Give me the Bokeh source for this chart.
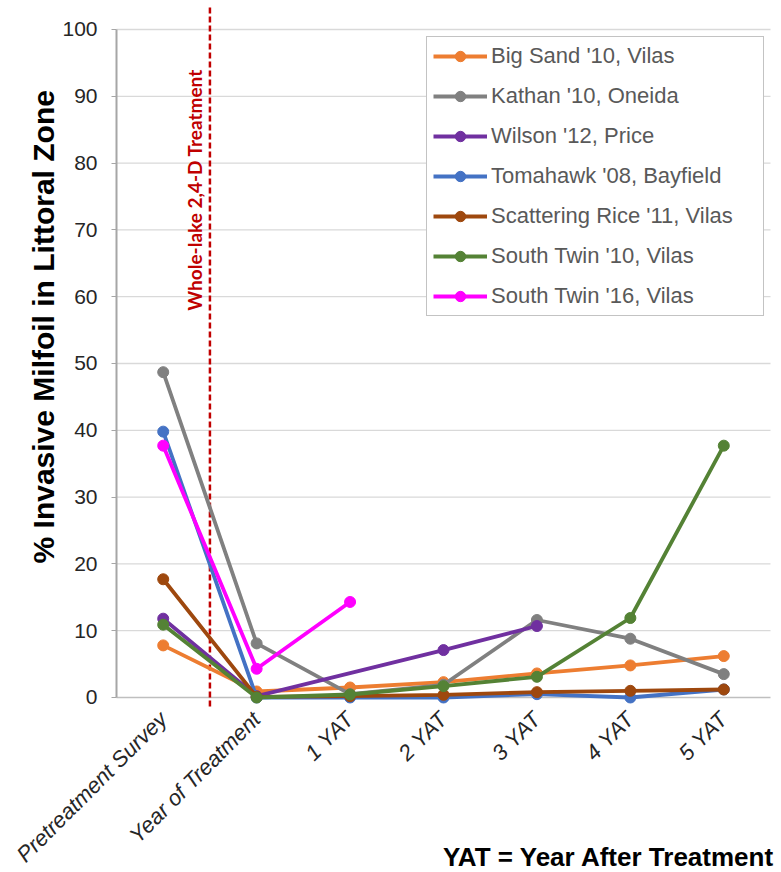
import math
from bokeh.plotting import figure
from bokeh.models import Range1d, FixedTicker, Label
from bokeh.embed import file_html
from bokeh.resources import INLINE

categories = ["Pretreatment Survey", "Year of Treatment", "1 YAT", "2 YAT", "3 YAT", "4 YAT", "5 YAT"]
big_sand = [7.8, 0.9, 1.5, 2.3, 3.6, 4.8, 6.2]
kathan = [48.7, 8.1, 0.5, 1.9, 11.6, 8.8, 3.5]
wilson = [11.8, 0.2, None, 7.1, 10.7, None, None]
tomahawk = [39.8, 0.0, 0.0, 0.0, 0.5, 0.0, 1.2]
scattering_rice = [17.7, 0.1, 0.2, 0.4, 0.8, 1.0, 1.2]
south_twin_10 = [10.9, 0.0, 0.45, 1.7, 3.1, 11.9, 37.7]
south_twin_16 = [37.7, 4.3, 14.3, None, None, None, None]

series_names = ["Big Sand '10, Vilas", "Kathan '10, Oneida", "Wilson '12, Price",
                "Tomahawk '08, Bayfield", "Scattering Rice '11, Vilas",
                "South Twin '10, Vilas", "South Twin '16, Vilas"]
series_values = [big_sand, kathan, wilson, tomahawk, scattering_rice, south_twin_10, south_twin_16]
series_colors = ["#ED7D31", "#808080", "#7030A0", "#4472C4", "#9E480E", "#548235", "#FF00FF"]

y_ticks = [0, 10, 20, 30, 40, 50, 60, 70, 80, 90, 100]
treatment_boundary = 0.5
x_positions = list(range(len(categories)))

# plot area spans x in [X_LO, X_HI], y in [0, 100]; the frame covers the whole canvas
X_LO, X_HI = -0.5, 6.5
Y_AXIS_AT = -1.35
Y_DASH_TOP = 103.3
CANVAS_W, CANVAS_H = 779, 871
X_MIN, X_MAX = -1.7416, 6.5963
Y_MIN, Y_MAX = -26.048, 104.341

p = figure(x_range=Range1d(X_MIN, X_MAX), y_range=Range1d(Y_MIN, Y_MAX),
           frame_width=CANVAS_W, frame_height=CANVAS_H,
           min_border_left=0, min_border_right=0, min_border_top=0, min_border_bottom=0,
           output_backend="svg", toolbar_location=None)
p.outline_line_color = None
p.background_fill_color = "white"
p.border_fill_color = "white"
p.xgrid.visible = False
p.ygrid.visible = False

# horizontal gridlines limited to the plot area
gy = y_ticks[1:]
p.segment(x0=[X_LO] * len(gy), y0=gy, x1=[X_HI] * len(gy), y1=gy,
          line_color="#D9D9D9", line_width=1.3)

# y axis (fixed at the left edge of the plot area)
p.yaxis.fixed_location = X_LO
p.yaxis.ticker = FixedTicker(ticks=y_ticks)
p.yaxis.axis_line_color = None
p.yaxis.major_tick_in = 0
p.yaxis.major_tick_out = 5
p.yaxis.major_tick_line_color = "#A6A6A6"
p.yaxis.minor_tick_line_color = None
p.yaxis.major_label_text_font = "Liberation Sans"
p.yaxis.major_label_text_font_size = "21px"
p.yaxis.major_label_text_color = "#262626"
p.yaxis.major_label_standoff = 14

# x axis (fixed just below the zero line)
p.xaxis.fixed_location = Y_AXIS_AT
p.xaxis.ticker = FixedTicker(ticks=x_positions)
p.xaxis.major_label_overrides = {i: c for i, c in zip(x_positions, categories)}
p.xaxis.axis_line_color = None
p.xaxis.major_tick_line_color = None
p.xaxis.minor_tick_line_color = None
p.xaxis.major_label_orientation = math.pi / 4
p.xaxis.major_label_text_font = "Liberation Sans"
p.xaxis.major_label_text_font_style = "italic"
p.xaxis.major_label_text_font_size = "22px"
p.xaxis.major_label_text_color = "#262626"
p.xaxis.major_label_standoff = 3

# axis lines
p.segment(x0=[X_LO], y0=[y_ticks[0]], x1=[X_HI], y1=[y_ticks[0]], line_color="#BFBFBF", line_width=1.5)
p.segment(x0=[X_LO], y0=[y_ticks[0]], x1=[X_LO], y1=[y_ticks[-1]], line_color="#A6A6A6", line_width=2)

# treatment line
p.segment(x0=[treatment_boundary], y0=[Y_AXIS_AT], x1=[treatment_boundary], y1=[Y_DASH_TOP],
          line_color="#C00000", line_width=2.5, line_dash="6 3")
p.add_layout(Label(x=0.335, y=57.9, text="Whole-lake 2,4-D Treatment", angle=math.pi / 2,
                   text_align="left", text_baseline="middle", text_color="#C00000",
                   text_font="Lato", text_font_style="bold", text_font_size="19px"))

for name, vals, col in zip(series_names, series_values, series_colors):
    xs = [x for x, v in zip(x_positions, vals) if v is not None]
    ys = [v for v in vals if v is not None]
    p.line(xs, ys, line_color=col, line_width=3.8, legend_label=name)
    p.scatter(xs, ys, size=11, fill_color=col, line_color=col, legend_label=name)

leg = p.legend[0]
leg.location = (426, 555)
leg.border_line_color = "#888888"
leg.border_line_width = 1.2
leg.background_fill_alpha = 1
leg.padding = 6
leg.margin = 0
leg.spacing = 14
leg.glyph_width = 54
leg.glyph_height = 26
leg.label_height = 26
leg.label_width = 266
leg.label_standoff = 4
leg.label_text_font = "Liberation Sans"
leg.label_text_font_size = "22px"
leg.label_text_color = "#595959"

# y axis title
p.add_layout(Label(x=-1.281, y=55.5, text="% Invasive Milfoil in Littoral Zone", angle=math.pi / 2,
                   text_align="center", text_baseline="middle", text_color="black",
                   text_font="Liberation Sans", text_font_style="bold", text_font_size="30px"))

p.add_layout(Label(x=6.543, y=-23.95, text="YAT = Year After Treatment",
                   text_align="right", text_baseline="middle", text_color="black",
                   text_font="Liberation Sans", text_font_style="bold", text_font_size="26px"))

open("out.html", "w").write(file_html(p, INLINE))
